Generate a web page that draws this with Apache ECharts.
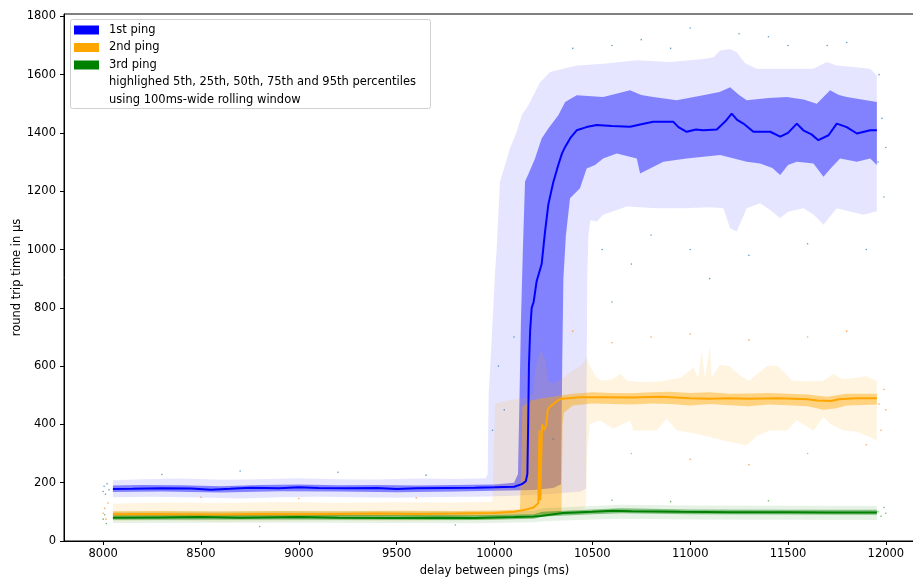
<!DOCTYPE html>
<html>
<head>
<meta charset="utf-8">
<script src="https://cdn.jsdelivr.net/npm/echarts@6/dist/echarts.min.js"></script>
<style>
html,body{margin:0;padding:0;background:#fff;}
#chart{width:913px;height:579px;}
</style>
</head>
<body>
<div id="chart"></div>
<script>
// ---------- tick labels ----------
const xTicks = [8000, 8500, 9000, 9500, 10000, 10500, 11000, 11500, 12000];
const yTicks = [0, 200, 400, 600, 800, 1000, 1200, 1400, 1600, 1800];

const legendNames = ['1st ping', '2nd ping', '3rd ping'];
const legendNotes = ['highlighed 5th, 25th, 50th, 75th and 95th percentiles', 'using 100ms-wide rolling window'];

// ---------- 1st ping (blue) rolling percentiles [delay ms, rtt µs] ----------
const blueP50 = [[8050,178],[8150,179],[8300,181],[8450,180],[8550,176],[8650,179],[8750,183],[8900,181],[9000,184],[9100,182],[9250,181],[9400,182],[9500,178],[9600,181],[9750,182],[9900,183],[10000,184],[10100,186],[10140,195],[10160,205],[10168,230],[10172,400],[10176,600],[10182,720],[10190,800],[10200,820],[10215,890],[10228,920],[10241,950],[10258,1060],[10275,1154],[10300,1230],[10326,1290],[10345,1330],[10361,1352],[10390,1385],[10420,1409],[10470,1420],[10522,1427],[10600,1424],[10693,1421],[10750,1430],[10811,1438],[10914,1438],[10940,1420],[10982,1404],[11030,1412],[11066,1409],[11136,1412],[11180,1440],[11212,1466],[11240,1445],[11272,1432],[11323,1404],[11409,1404],[11460,1387],[11500,1400],[11545,1432],[11578,1409],[11620,1395],[11655,1375],[11707,1392],[11749,1432],[11800,1420],[11852,1398],[11920,1409],[11954,1409]];
const blueP75 = [[8050,190],[8200,192],[8400,191],[8600,188],[8800,192],[9000,194],[9200,191],[9400,192],[9600,190],[9800,192],[10000,194],[10100,200],[10120,230],[10128,500],[10135,750],[10145,1000],[10156,1233],[10171,1256],[10207,1312],[10241,1381],[10275,1415],[10326,1461],[10361,1506],[10420,1529],[10555,1523],[10693,1546],[10750,1530],[10811,1523],[10931,1512],[11066,1529],[11150,1540],[11204,1557],[11250,1530],[11289,1512],[11400,1520],[11494,1523],[11580,1515],[11647,1500],[11715,1546],[11760,1530],[11800,1523],[11954,1506]];
const blueP25 = [[8050,168],[8300,170],[8600,166],[8900,171],[9200,170],[9500,167],[9800,170],[10000,172],[10200,175],[10300,182],[10340,195],[10346,600],[10352,900],[10365,1050],[10386,1176],[10437,1210],[10471,1278],[10514,1290],[10555,1312],[10625,1329],[10727,1312],[10744,1261],[10795,1278],[10863,1301],[10982,1312],[11153,1324],[11289,1301],[11357,1295],[11420,1280],[11460,1256],[11500,1290],[11545,1301],[11630,1295],[11681,1250],[11720,1280],[11766,1312],[11852,1301],[11920,1312],[11954,1290]];
const blueP95 = [[8050,208],[8200,212],[8400,214],[8600,210],[8800,212],[9000,215],[9200,212],[9400,211],[9600,214],[9800,213],[9955,215],[9965,230],[9970,500],[9986,698],[10003,925],[10011,1000],[10028,1233],[10054,1291],[10079,1347],[10113,1404],[10139,1461],[10173,1495],[10233,1574],[10284,1609],[10420,1631],[10555,1637],[10727,1649],[10897,1643],[11066,1654],[11120,1660],[11153,1683],[11204,1688],[11238,1677],[11280,1640],[11340,1620],[11494,1620],[11629,1620],[11698,1643],[11749,1631],[11850,1625],[11920,1620],[11954,1597]];
const blueP5 = [[8050,150],[8250,152],[8500,149],[8700,146],[8900,150],[9100,152],[9300,150],[9500,148],[9700,151],[9900,152],[10100,155],[10300,162],[10440,170],[10468,180],[10474,900],[10480,1050],[10490,1100],[10522,1096],[10555,1119],[10676,1148],[10829,1142],[10964,1142],[11100,1145],[11170,1142],[11204,1073],[11238,1062],[11289,1142],[11357,1159],[11400,1140],[11460,1108],[11500,1130],[11578,1142],[11630,1120],[11681,1085],[11749,1142],[11820,1130],[11886,1119],[11954,1131]];
const blueDots = [[8000,170],[8005,188],[8012,160],[8020,196],[8030,176],[8300,228],[8700,240],[9200,236],[9650,226],[9990,380],[10020,600],[10050,450],[10100,700],[10300,350],[10400,1690],[10550,1000],[10600,1700],[10600,820],[10700,950],[10750,1720],[10800,1050],[10900,1690],[11000,1760],[11000,1000],[11100,900],[11250,1740],[11300,980],[11400,1730],[11500,1700],[11600,1020],[11700,1700],[11800,1710],[11900,1000],[11960,1300],[11965,1600],[11980,1450],[11990,1180],[12000,1350]];

// ---------- 2nd ping (orange) ----------
const orangeP50 = [[8050,92],[8200,93],[8400,92],[8600,91],[8800,93],[9000,92],[9200,93],[9400,94],[9600,93],[9800,94],[10000,96],[10100,100],[10150,106],[10200,115],[10224,130],[10230,380],[10234,140],[10240,140],[10243,400],[10255,380],[10265,400],[10272,450],[10284,461],[10310,475],[10335,487],[10437,493],[10550,493],[10700,492],[10850,495],[11000,490],[11100,488],[11200,490],[11300,488],[11450,490],[11600,486],[11650,482],[11720,480],[11760,486],[11850,490],[11954,490]];
const orangeP75 = [[8050,102],[8300,103],[8600,101],[8900,103],[9200,102],[9500,104],[9800,103],[10000,105],[10130,108],[10138,300],[10142,460],[10180,480],[10240,490],[10300,495],[10344,500],[10400,505],[10500,510],[10600,508],[10700,507],[10800,510],[10900,512],[11000,508],[11100,510],[11200,505],[11300,506],[11400,508],[11500,505],[11600,503],[11700,495],[11800,505],[11954,505]];
const orangeP25 = [[8050,84],[8300,85],[8600,84],[8900,86],[9200,85],[9500,86],[9800,85],[10000,87],[10200,90],[10330,95],[10342,100],[10348,400],[10355,440],[10400,465],[10500,472],[10600,470],[10700,468],[10800,472],[10900,470],[11000,465],[11100,470],[11200,466],[11300,462],[11400,468],[11500,466],[11600,462],[11680,450],[11740,455],[11800,465],[11954,468]];
const orangeP95 = [[8050,128],[8300,132],[8600,130],[8900,134],[9200,131],[9500,133],[9800,132],[9990,135],[9996,300],[10003,470],[10050,480],[10100,485],[10150,490],[10200,505],[10207,585],[10225,632],[10240,655],[10260,621],[10275,550],[10300,540],[10350,560],[10400,585],[10440,600],[10471,629],[10488,600],[10520,560],[10550,550],[10600,555],[10642,573],[10680,550],[10750,545],[10850,548],[10950,560],[11017,595],[11040,560],[11059,652],[11075,560],[11102,669],[11110,560],[11150,604],[11200,600],[11250,570],[11300,550],[11395,601],[11445,601],[11480,580],[11520,550],[11600,548],[11680,550],[11730,573],[11780,555],[11850,560],[11900,565],[11954,550]];
const orangeP5 = [[8050,68],[8300,70],[8600,67],[8900,69],[9200,70],[9500,68],[9800,70],[10000,72],[10200,80],[10350,95],[10460,110],[10468,130],[10474,300],[10488,402],[10539,413],[10607,385],[10693,413],[10710,379],[10829,379],[10880,419],[10931,379],[11033,368],[11170,345],[11289,328],[11340,360],[11409,379],[11494,379],[11545,413],[11630,379],[11681,425],[11720,400],[11783,379],[11852,375],[11920,356],[11954,345]];
const orangeDots = [[8000,95],[8008,112],[8015,75],[8025,130],[8500,150],[9000,146],[9600,148],[10150,560],[10250,690],[10400,720],[10600,680],[10700,300],[10800,700],[11000,710],[11000,280],[11300,690],[11300,262],[11600,700],[11600,300],[11800,720],[11900,330],[11965,470],[11975,380],[11990,520],[12000,450]];

// ---------- 3rd ping (green) ----------
const greenP50 = [[8050,80],[8300,81],[8500,82],[8700,80],[9000,82],[9200,80],[9500,79],[9700,80],[9900,79],[10100,82],[10200,84],[10235,86],[10245,92],[10350,96],[10500,100],[10607,104],[10700,102],[10950,100],[11200,99],[11500,99],[11700,98],[11954,98]];
const greenP75 = [[8050,88],[9000,90],[9900,88],[10200,92],[10245,100],[10500,108],[10650,112],[11000,108],[11500,107],[11954,107]];
const greenP25 = [[8050,73],[9000,74],[9900,72],[10200,76],[10245,84],[10500,92],[10650,95],[11000,92],[11500,91],[11954,90]];
const greenP95 = [[8050,100],[9000,102],[9900,100],[10200,104],[10250,112],[10500,120],[10650,124],[11000,122],[11500,121],[11954,120]];
const greenP5 = [[8050,62],[9000,63],[9900,61],[10200,64],[10250,68],[10500,74],[10650,76],[11000,74],[11500,73],[11954,72]];
const greenDots = [[8000,75],[8008,90],[8016,60],[8800,50],[9800,55],[10600,140],[10900,135],[11400,138],[11960,100],[11975,85],[11990,115],[12000,95]];

// ---------- rendering ----------
const FONT = '"DejaVu Sans", "Liberation Sans", sans-serif';
const FS = 11.5;

function band(upper, lower, fill) {
  return {
    type: 'custom',
    silent: true,
    clip: true,
    data: [upper[0]],
    renderItem: function (params, api) {
      const pts = upper.map(p => api.coord(p))
        .concat(lower.slice().reverse().map(p => api.coord(p)));
      return { type: 'polygon', shape: { points: pts }, style: { fill: fill, stroke: null } };
    }
  };
}
function median(data, color) {
  return { type: 'line', data: data, symbol: 'none', showSymbol: false, silent: true,
    lineStyle: { color: color, width: 2 }, itemStyle: { color: color } };
}
function dots(data, color) {
  return { type: 'scatter', data: data, symbolSize: 1.6, silent: true,
    itemStyle: { color: color, opacity: 0.7 } };
}

const series = [
  dots(blueDots, '#1f77b4'),
  band(blueP95, blueP5, 'rgba(0,0,255,0.1)'),
  band(blueP75, blueP25, 'rgba(0,0,255,0.43)'),
  median(blueP50, '#0000ff'),
  dots(orangeDots, '#ff7f0e'),
  band(orangeP95, orangeP5, 'rgba(255,165,0,0.12)'),
  band(orangeP75, orangeP25, 'rgba(255,165,0,0.43)'),
  median(orangeP50, '#ffa500'),
  dots(greenDots, '#2ca02c'),
  band(greenP95, greenP5, 'rgba(0,128,0,0.1)'),
  band(greenP75, greenP25, 'rgba(0,128,0,0.43)'),
  median(greenP50, '#008000')
];

const legendColors = ['#0000ff', '#ffa500', '#008000'];
const rowY = [30, 47.5, 65, 82.5, 100];
const graphic = [
  { type: 'rect', z: 100, shape: { x: 70.5, y: 19.5, width: 360, height: 89, r: 2 },
    style: { fill: 'rgba(255,255,255,0.85)', stroke: '#d0d0d0', lineWidth: 1 } }
];
legendNames.forEach((n, i) => {
  graphic.push({ type: 'rect', z: 101, shape: { x: 74, y: rowY[i] - 4.5, width: 25, height: 9 },
    style: { fill: legendColors[i] } });
  graphic.push({ type: 'text', z: 101, style: { text: n, x: 109, y: rowY[i], verticalAlign: 'middle',
    font: FS + 'px ' + FONT, fill: '#000' } });
});
legendNotes.forEach((n, i) => {
  graphic.push({ type: 'text', z: 101, style: { text: n, x: 109, y: rowY[3 + i], verticalAlign: 'middle',
    font: FS + 'px ' + FONT, fill: '#000' } });
});

const plain = v => String(v);

const chart = echarts.init(document.getElementById('chart'), null, { renderer: 'canvas' });
chart.setOption({
  animation: false,
  backgroundColor: '#fff',
  grid: { left: 64, right: -12, top: 14, bottom: 38, show: true, borderColor: '#000', borderWidth: 1,
    backgroundColor: 'transparent', containLabel: false, outerBoundsMode: 'none' },
  xAxis: {
    type: 'value', min: 7800, max: 12200,
    name: 'delay between pings (ms)', nameLocation: 'middle', nameGap: 24, nameMoveOverlap: false,
    nameTextStyle: { fontFamily: FONT, fontSize: FS, color: '#000' },
    axisLine: { show: true, onZero: false, lineStyle: { color: '#000', width: 1 } },
    axisTick: { show: true, length: 4, lineStyle: { color: '#000' }, customValues: xTicks },
    axisLabel: { fontFamily: FONT, fontSize: FS, color: '#000', margin: 7, customValues: xTicks, formatter: plain },
    splitLine: { show: false }
  },
  yAxis: {
    type: 'value', min: 0, max: 1808,
    name: 'round trip time in µs', nameLocation: 'middle', nameGap: 41, nameRotate: 90, nameMoveOverlap: false,
    nameTextStyle: { fontFamily: FONT, fontSize: FS, color: '#000' },
    axisLine: { show: true, onZero: false, lineStyle: { color: '#000', width: 1 } },
    axisTick: { show: true, length: 4, lineStyle: { color: '#000' }, customValues: yTicks },
    axisLabel: { fontFamily: FONT, fontSize: FS, color: '#000', margin: 8, customValues: yTicks, formatter: plain },
    splitLine: { show: false }
  },
  graphic: graphic,
  series: series
});
</script>
</body>
</html>
